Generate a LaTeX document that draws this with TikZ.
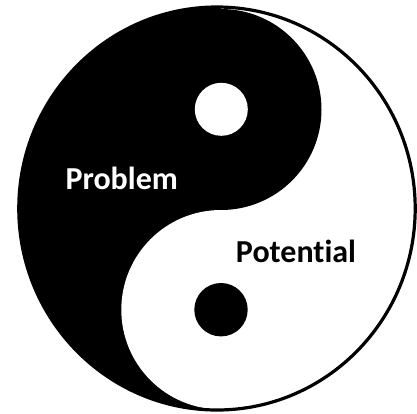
\documentclass[tikz,border=0pt]{standalone}
\usepackage{fontspec}
\setmainfont[Ligatures=NoCommon]{Carlito}
\begin{document}
\begin{tikzpicture}[x=1pt,y=-1pt,
  lbl/.style={font=\fontsize{32}{38}\selectfont\bfseries,anchor=base}]
  \useasboundingbox (0,0) rectangle (417,413);
  % Outer disc
  \fill[white] (217,208.5) ellipse [x radius=198.2pt,y radius=201.5pt];
  % Dark half
  \begin{scope}
    \clip (217,208.5) ellipse [x radius=198.2pt,y radius=201.5pt];
    \fill[black] (0,0) rectangle (221,413);
  \end{scope}
  % Upper and lower lobes
  \fill[black] (221,109.5) circle (100.5pt);
  \fill[white] (221,309.7) circle (99.7pt);
  % Eyes
  \fill[white] (221.3,109.3) circle (26.5pt);
  \fill[black] (221,309.7) circle (26.7pt);
  % Outline
  \draw[black,line width=3.2pt] (217,208.5) ellipse [x radius=198.2pt,y radius=201.5pt];
  % Labels
  \node[lbl,white] (problem) at (121.7,189) {Problem};
  \node[lbl,black] (potential) at (296,262) {Potential};
\end{tikzpicture}
\end{document}
